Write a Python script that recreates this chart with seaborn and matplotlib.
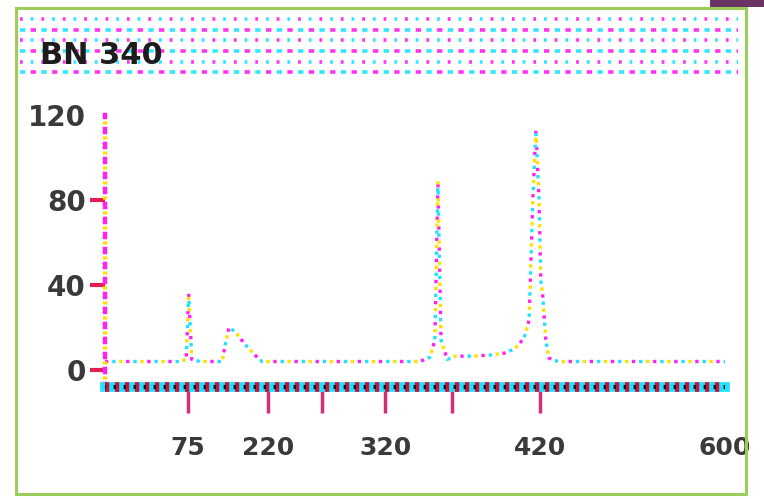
import matplotlib
matplotlib.use("Agg")
import matplotlib.pyplot as plt
from matplotlib.lines import Line2D
from matplotlib.patches import Rectangle
import seaborn as sns
import pandas as pd

# ---- data ----
title = "BN 340"
shift = [0.0, 12.1, 13.1, 13.5, 14.0, 15.3, 18.9, 19.4, 20.0, 21.0, 22.6, 24.2,
         25.3, 31.5, 50.8, 52.4, 53.2, 53.7, 54.2, 55.2, 56.5, 58.9, 62.1, 64.5,
         66.1, 67.6, 68.4, 69.0, 69.5, 70.0, 70.3, 70.6, 71.1, 71.6, 73.1, 100.0]
counts = [4, 4, 5, 36, 5, 4, 4, 12, 20, 18, 12, 7,
          4, 4, 4, 6, 14, 89, 14, 5, 6.5, 6.5, 7, 8,
          10, 15, 23.5, 80, 113, 80, 42, 35, 14, 5.6, 4, 4]
x_tick_pos = [13.4, 26.3, 45.2, 70.2, 100.0]
x_tick_labels = ["75", "220", "320", "420", "600"]
x_minor_pos = [35.0, 56.0]
y_ticks = [0, 40, 80, 120]
y_tick_labels = ["0", "40", "80", "120"]

sns.set_theme(style="white")
plt.rcParams["lines.scale_dashes"] = False
plt.rcParams["font.family"] = ["DejaVu Sans"]

W, H = 764, 499
fig = plt.figure(figsize=(W / 100, H / 100), dpi=100)
fig.patch.set_facecolor("white")


def fx(px):
    return px / W


def fy(py):
    return 1 - py / H


# outer frame and corner bar
fig.add_artist(Rectangle((fx(16), fy(494)), (746 - 16) / W, (494 - 8) / H,
                         transform=fig.transFigure, fill=False,
                         edgecolor="#9acd5a", linewidth=2.2))
fig.add_artist(Rectangle((fx(710), fy(7)), (764 - 710) / W, 7 / H,
                         transform=fig.transFigure, facecolor="#6a3565",
                         edgecolor="none"))

# dotted title band
rows = [19, 30, 40, 51, 62, 72]
for i, ry in enumerate(rows):
    if i % 2 == 0:
        on = 2.0
        pats = [("#ff33ee", 0), ("#33e6ff", 7.7)]
    else:
        on = 3.8
        pats = [("#33e6ff", 0), ("#ff33ee", 7.7)]
    for col, off in pats:
        fig.add_artist(Line2D([fx(20), fx(738)], [fy(ry), fy(ry)],
                              transform=fig.transFigure, color=col,
                              linewidth=2.6,
                              linestyle=(off, (on, 15.4 - on))))

fig.text(fx(40), fy(56), title, fontsize=22, weight="bold", va="center",
         ha="left", color="#1c1c1c", zorder=5)

# ---- plot area ----
ax = fig.add_axes([fx(105), fy(387), (725 - 105) / W, (387 - 115) / H])
ax.set_facecolor("none")
df = pd.DataFrame({"shift": shift, "counts": counts})
for color, offset in [("#ff22ee", 0), ("#ffe000", 5), ("#22e0ff", 10)]:
    sns.lineplot(data=df, x="shift", y="counts", ax=ax, color=color,
                 linewidth=2.4, linestyle=(offset, (2.4, 12.8)),
                 sort=False, estimator=None)

ax.set_xlim(0, 100)
ax.set_ylim(-8, 120)
ax.set_xlabel("")
ax.set_ylabel("")

for side in ("top", "right"):
    ax.spines[side].set_visible(False)

# x axis: heavy dashed rule
ax.spines["bottom"].set_color("#22e0ff")
ax.spines["bottom"].set_linewidth(7)
ax.add_line(Line2D([0, 1], [0, 0], transform=ax.transAxes, clip_on=False,
                   color="#d0103a", linewidth=7,
                   linestyle=(0, (3, 4.2)), zorder=4))
ax.add_line(Line2D([0, 1], [0, 0], transform=ax.transAxes, clip_on=False,
                   color="#111111", linewidth=3,
                   linestyle=(1, (1.6, 5.6)), zorder=5))

# y axis: dotted rule
ax.spines["left"].set_color("#ff22ee")
ax.spines["left"].set_linewidth(3.2)
ax.spines["left"].set_linestyle((0, (2.2, 8.6)))
ax.add_line(Line2D([0, 0], [0, 1], transform=ax.transAxes, clip_on=False,
                   color="#ffe000", linewidth=3.2,
                   linestyle=(5.4, (2.2, 8.6)), zorder=3))

ax.set_xticks(x_tick_pos, x_tick_labels)
ax.set_xticks(x_minor_pos, minor=True)
ax.tick_params(axis="x", which="both", bottom=True, length=19, width=2.5,
               color="#d0307a", direction="out")
ax.tick_params(axis="x", which="major", pad=16, labelsize=18,
               labelcolor="#3a3a3a")
ax.xaxis.get_major_ticks()[-1].tick1line.set_visible(False)

ax.set_yticks(y_ticks, y_tick_labels)
ax.tick_params(axis="y", left=True, length=11, width=3, color="#e02050",
               direction="out", pad=3, labelsize=20, labelcolor="#3a3a3a")
ax.yaxis.get_major_ticks()[-1].tick1line.set_visible(False)

for lab in ax.get_xticklabels() + ax.get_yticklabels():
    lab.set_fontweight("bold")

fig.savefig("out.png", dpi=100, facecolor="white")
